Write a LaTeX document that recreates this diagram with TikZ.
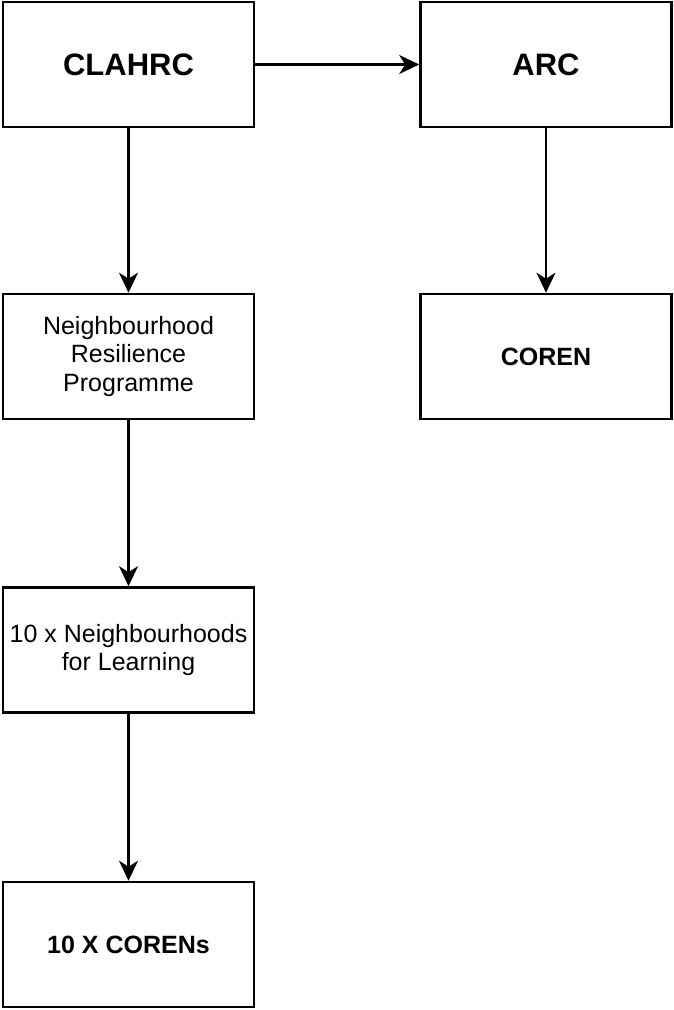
\documentclass[tikz,border=0pt]{standalone}
\usepackage{fontspec}
\setmainfont{Liberation Sans}
\usetikzlibrary{arrows.meta}
\begin{document}
\begin{tikzpicture}[x=1pt,y=-1pt,
  box/.style={draw=black,line width=2.6pt,minimum width=251pt,minimum height=125pt,inner sep=0pt,align=center,font=\fontsize{25}{28.5}\selectfont},
  bigbold/.style={font=\fontsize{31}{34}\selectfont\bfseries},
  medbold/.style={font=\fontsize{25}{28.5}\selectfont\bfseries},
  conn/.style={line width=2.6pt,-{Stealth[length=20pt,width=19pt,inset=6pt]}}]
\useasboundingbox (0,0) rectangle (674,1010);
\node[box,bigbold] (clahrc) at (128.5,64.5) {CLAHRC};
\node[box,bigbold] (arc) at (546,64.5) {ARC};
\node[box] (nrp) at (128.5,356.5) {Neighbourhood\\Resilience\\Programme};
\node[box,medbold] (coren) at (546,356.5) {COREN};
\node[box] (nfl) at (128.5,650) {10 x Neighbourhoods\\for Learning};
\node[box,medbold] (corens) at (128.5,944.5) {10 X CORENs};
\draw[conn] (clahrc) -- (arc);
\draw[conn] (clahrc) -- (nrp);
\draw[conn] (arc) -- (coren);
\draw[conn] (nrp) -- (nfl);
\draw[conn] (nfl) -- (corens);
\end{tikzpicture}
\end{document}
